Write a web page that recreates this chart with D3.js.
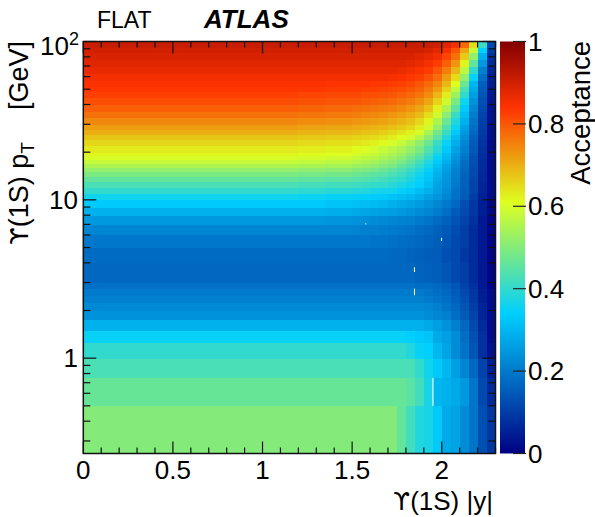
<!DOCTYPE html>
<html>
<head>
<meta charset="utf-8">
<script src="https://cdn.jsdelivr.net/npm/d3@7"></script>
<style>
  body { margin: 0; background: #fff; }
  text { font-family: "Liberation Sans", Arial, Helvetica, sans-serif; fill: #000; }
</style>
</head>
<body>
<div id="chart"></div>
<script>
// |y| bin edges and pT bin edges (GeV)
var yEdges = [0, 0.5, 1.0, 1.2, 1.35, 1.5, 1.55, 1.6, 1.65, 1.7, 1.75, 1.8, 1.85, 1.9, 1.95, 2.0, 2.05, 2.1, 2.15, 2.2, 2.25, 2.3];
var ptEdges = [0.25, 0.5, 0.75, 1, 1.25, 1.5, 1.75, 2, 2.25, 2.5, 2.75, 3, 3.5, 4, 5, 6, 7, 8, 9, 10,
  11, 12, 13, 14, 15, 16, 17, 18, 19, 20, 22, 24, 26, 28, 30, 33, 36, 40, 44, 48, 52, 57, 63, 70, 77, 85, 92, 100];

// acceptance, one row per pT bin (low pT first), one value per |y| bin
var acceptance = [
  [.50, .50, .50, .50, .50, .50, .50, .50, .50, .50, .46, .42, .38, .37, .33, .28, .27, .23, .19, .13, .09],
  [.465, .465, .465, .465, .465, .465, .465, .465, .465, .465, .465, .45, .42, .37, .30, .29, .28, .25, .19, .12, .07],
  [.43, .43, .43, .43, .43, .43, .43, .43, .43, .43, .43, .43, .40, .36, .33, .30, .26, .22, .17, .11, .05],
  [.40, .40, .40, .40, .40, .40, .40, .40, .40, .40, .40, .38, .35, .34, .30, .27, .23, .19, .14, .08, .03],
  [.35, .35, .35, .35, .35, .35, .35, .35, .35, .35, .35, .34, .33, .32, .28, .26, .23, .18, .13, .08, .02],
  [.29, .29, .29, .29, .29, .29, .29, .29, .29, .29, .29, .29, .29, .28, .26, .24, .21, .17, .12, .07, .02],
  [.24, .24, .24, .24, .24, .24, .24, .24, .24, .24, .24, .24, .24, .23, .22, .21, .18, .15, .11, .06, .02],
  [.225, .225, .225, .225, .225, .225, .225, .225, .225, .225, .225, .225, .225, .22, .21, .19, .17, .14, .10, .06, .02],
  [.21, .21, .21, .21, .21, .21, .21, .21, .21, .21, .21, .21, .21, .20, .19, .18, .16, .13, .09, .05, .02],
  [.20, .20, .20, .20, .20, .20, .20, .20, .20, .20, .20, .20, .20, .19, .18, .17, .15, .12, .09, .05, .02],
  [.185, .185, .185, .185, .185, .185, .185, .185, .185, .185, .185, .185, .18, .18, .17, .16, .14, .11, .08, .04, .01],
  [.17, .17, .17, .17, .17, .17, .17, .17, .17, .17, .17, .17, .165, .16, .155, .14, .12, .10, .07, .04, .01],
  [.17, .17, .17, .17, .17, .17, .17, .17, .17, .17, .17, .17, .165, .16, .155, .14, .12, .10, .07, .04, .01],
  [.175, .175, .175, .175, .175, .175, .175, .175, .175, .17, .17, .165, .16, .155, .15, .13, .12, .09, .07, .04, .01],
  [.195, .195, .195, .195, .195, .195, .195, .19, .19, .185, .18, .175, .17, .165, .155, .14, .12, .10, .07, .04, .01],
  [.22, .22, .22, .22, .22, .215, .21, .21, .205, .20, .195, .19, .18, .17, .16, .145, .125, .10, .07, .04, .01],
  [.25, .25, .25, .25, .245, .24, .235, .23, .225, .22, .215, .21, .20, .19, .175, .16, .135, .11, .08, .04, .01],
  [.29, .29, .29, .29, .285, .28, .275, .27, .265, .26, .25, .24, .23, .22, .20, .18, .15, .12, .09, .05, .015],
  [.33, .33, .33, .33, .32, .315, .31, .305, .30, .29, .28, .27, .255, .24, .22, .20, .17, .13, .09, .05, .015],
  [.36, .36, .36, .355, .35, .345, .34, .335, .33, .32, .31, .30, .285, .265, .245, .22, .185, .15, .10, .055, .02],
  [.40, .40, .40, .395, .39, .385, .38, .37, .365, .36, .345, .33, .31, .29, .26, .23, .19, .155, .11, .06, .02],
  [.43, .43, .43, .425, .42, .415, .41, .405, .40, .39, .375, .355, .34, .31, .27, .24, .20, .16, .11, .06, .02],
  [.46, .46, .46, .455, .45, .445, .44, .43, .42, .41, .395, .375, .35, .32, .28, .245, .205, .16, .115, .065, .02],
  [.49, .49, .49, .485, .48, .47, .465, .455, .445, .43, .415, .39, .36, .33, .29, .25, .21, .165, .12, .065, .02],
  [.52, .52, .52, .515, .51, .50, .495, .485, .47, .455, .435, .41, .38, .345, .30, .26, .215, .17, .12, .07, .02],
  [.55, .55, .55, .545, .54, .53, .525, .515, .50, .485, .46, .435, .40, .36, .315, .27, .225, .175, .125, .07, .02],
  [.58, .58, .58, .575, .57, .56, .55, .54, .525, .51, .49, .46, .425, .38, .33, .285, .235, .18, .13, .07, .02],
  [.60, .60, .60, .595, .59, .58, .57, .56, .545, .53, .51, .48, .445, .40, .35, .30, .245, .19, .13, .075, .02],
  [.62, .62, .62, .615, .61, .60, .59, .58, .565, .55, .53, .50, .465, .42, .365, .31, .255, .20, .14, .075, .02],
  [.635, .635, .635, .63, .625, .615, .605, .595, .58, .565, .545, .52, .49, .44, .39, .33, .27, .21, .145, .08, .02],
  [.655, .655, .655, .65, .645, .64, .635, .625, .615, .60, .58, .55, .515, .47, .41, .35, .285, .22, .15, .085, .02],
  [.675, .675, .675, .67, .665, .66, .655, .65, .64, .63, .615, .595, .56, .51, .45, .38, .305, .235, .16, .09, .025],
  [.70, .70, .70, .695, .69, .685, .68, .675, .665, .655, .64, .625, .60, .545, .48, .41, .33, .25, .17, .095, .025],
  [.72, .72, .72, .715, .71, .705, .70, .695, .69, .68, .67, .655, .63, .59, .52, .44, .355, .27, .18, .10, .025],
  [.745, .745, .745, .74, .735, .73, .725, .72, .715, .705, .695, .68, .655, .62, .55, .47, .38, .29, .19, .105, .03],
  [.77, .77, .77, .765, .76, .755, .75, .745, .74, .73, .72, .705, .685, .65, .59, .51, .41, .31, .205, .11, .03],
  [.79, .79, .79, .785, .78, .775, .77, .765, .76, .755, .745, .73, .71, .68, .625, .55, .45, .33, .22, .12, .03],
  [.81, .81, .81, .805, .80, .80, .795, .79, .785, .78, .77, .76, .74, .71, .66, .59, .49, .36, .24, .13, .035],
  [.825, .825, .825, .82, .815, .815, .81, .81, .805, .80, .79, .78, .765, .74, .69, .63, .53, .40, .26, .14, .04],
  [.838, .838, .838, .835, .83, .83, .825, .825, .82, .815, .81, .80, .785, .76, .72, .66, .57, .43, .28, .15, .045],
  [.845, .845, .845, .845, .84, .84, .84, .835, .835, .83, .825, .815, .80, .78, .745, .69, .61, .47, .30, .16, .05],
  [.855, .855, .855, .855, .855, .855, .855, .855, .855, .85, .845, .835, .825, .805, .775, .72, .65, .52, .35, .18, .055],
  [.868, .868, .868, .868, .868, .868, .868, .868, .868, .868, .865, .855, .845, .83, .80, .755, .69, .57, .40, .21, .06],
  [.88, .88, .88, .88, .88, .88, .88, .88, .88, .88, .88, .875, .865, .85, .83, .79, .73, .62, .46, .25, .07],
  [.89, .89, .89, .89, .89, .89, .89, .89, .89, .89, .89, .89, .88, .87, .855, .82, .77, .67, .52, .29, .08],
  [.90, .90, .90, .90, .90, .90, .90, .90, .90, .90, .90, .90, .90, .89, .875, .85, .80, .71, .58, .34, .10],
  [.91, .91, .91, .91, .91, .91, .91, .91, .91, .91, .91, .91, .91, .91, .90, .88, .85, .78, .65, .41, .12]
];

// empty bins drawn white: [|y| lo, |y| hi, pT lo, pT hi]
var emptyBins = [
  [1.573, 1.579, 7.0, 7.1],
  [1.996, 2.002, 5.5, 5.75],
  [1.845, 1.851, 3.5, 3.75],
  [1.845, 1.851, 2.5, 2.75],
  [1.948, 1.954, 0.5, 0.75]
];

var xTicks = [0, 0.5, 1, 1.5, 2];
var xTickLabels = ["0", "0.5", "1", "1.5", "2"];
var ptTicks = [1, 10, 100];
var zTicks = [0, 0.2, 0.4, 0.6, 0.8, 1];
var zTickLabels = ["0", "0.2", "0.4", "0.6", "0.8", "1"];

var width = 595, height = 517;
var fs = 26;

var svg = d3.select("#chart").append("svg")
  .attr("width", width)
  .attr("height", height);

var x = d3.scaleLinear().domain([0, 2.3]).range([83.3, 495.5]);
var y = d3.scaleLog().domain([0.25, 100]).range([453.5, 41.5]);

// ROOT style rainbow palette
var color = d3.scaleLinear()
  .domain([0, 0.34, 0.61, 0.84, 1])
  .range(["#000082", "#00cfff", "#deff1f", "#ff3300", "#820000"])
  .clamp(true);

var cells = [];
acceptance.forEach(function(row, j) {
  row.forEach(function(v, i) {
    cells.push({ y0: yEdges[i], y1: yEdges[i + 1], p0: ptEdges[j], p1: ptEdges[j + 1], v: v });
  });
});

svg.append("g")
  .attr("shape-rendering", "crispEdges")
  .selectAll("rect")
  .data(cells)
  .enter()
  .append("rect")
  .attr("x", d => x(d.y0))
  .attr("y", d => y(d.p1))
  .attr("width", d => x(d.y1) - x(d.y0) + 0.5)
  .attr("height", d => y(d.p0) - y(d.p1) + 0.5)
  .attr("fill", d => color(d.v));

svg.append("g")
  .selectAll("rect")
  .data(emptyBins)
  .enter()
  .append("rect")
  .attr("x", d => x(d[0]))
  .attr("y", d => y(d[3]))
  .attr("width", d => x(d[1]) - x(d[0]))
  .attr("height", d => y(d[2]) - y(d[3]))
  .attr("fill", "#fff");

// ticks (ROOT style, inside the frame, mirrored)
var axes = svg.append("g").attr("stroke", "#111").attr("stroke-width", 1.2);
var xMinor = d3.range(0, 2.31, 0.1);
xMinor.forEach(function(t) {
  var major = xTicks.some(m => Math.abs(m - t) < 1e-6);
  var len = major ? 12 : 6;
  axes.append("line").attr("x1", x(t)).attr("x2", x(t)).attr("y1", 453.5).attr("y2", 453.5 - len);
  axes.append("line").attr("x1", x(t)).attr("x2", x(t)).attr("y1", 41.5).attr("y2", 41.5 + len);
});
var ptMinor = [];
[0.1, 1, 10].forEach(function(dec) {
  for (var k = 2; k <= 9; k++) {
    var v = k * dec;
    if (v >= 0.25 && v <= 100) ptMinor.push(v);
  }
});
ptMinor.concat(ptTicks).forEach(function(t) {
  var len = ptTicks.indexOf(t) >= 0 ? 13 : 7;
  axes.append("line").attr("x1", 83.3).attr("x2", 83.3 + len).attr("y1", y(t)).attr("y2", y(t));
  axes.append("line").attr("x1", 495.5).attr("x2", 495.5 - len).attr("y1", y(t)).attr("y2", y(t));
});

svg.append("rect")
  .attr("x", 83.3).attr("y", 41.5)
  .attr("width", 495.5 - 83.3).attr("height", 453.5 - 41.5)
  .attr("fill", "none").attr("stroke", "#111").attr("stroke-width", 1.5);

// x tick labels
svg.append("g").selectAll("text")
  .data(xTicks)
  .enter()
  .append("text")
  .attr("x", d => x(d))
  .attr("y", 479)
  .attr("text-anchor", "middle")
  .attr("font-size", fs)
  .text((d, i) => xTickLabels[i]);

// y tick labels
svg.append("text").attr("x", 78).attr("y", y(1) + 9).attr("text-anchor", "end").attr("font-size", fs).text("1");
svg.append("text").attr("x", 78).attr("y", y(10) + 9).attr("text-anchor", "end").attr("font-size", fs).text("10");
var t100 = svg.append("text").attr("x", 79).attr("y", y(100) + 13).attr("text-anchor", "end").attr("font-size", fs);
t100.append("tspan").text("10");
t100.append("tspan").attr("dy", -10).attr("font-size", 18).text("2");

// axis titles
var xt = svg.append("text")
  .attr("x", 493).attr("y", 510)
  .attr("text-anchor", "end")
  .attr("font-size", fs);
xt.append("tspan").attr("font-family", "DejaVu Sans").attr("font-size", 24).text("ϒ");
xt.append("tspan").text("(1S) |y|");

var yt = svg.append("text")
  .attr("transform", "translate(28,41) rotate(-90)")
  .attr("text-anchor", "end")
  .attr("font-size", 27);
yt.append("tspan").attr("font-family", "DejaVu Sans").attr("font-size", 25).text("ϒ");
yt.append("tspan").text("(1S) p");
yt.append("tspan").attr("dy", 6).attr("font-size", 19).text("T");
yt.append("tspan").attr("dy", -6).attr("dx", 32).text("[GeV]");

// colour bar
var defs = svg.append("defs");
var grad = defs.append("linearGradient")
  .attr("id", "zgrad")
  .attr("x1", "0%").attr("x2", "0%")
  .attr("y1", "100%").attr("y2", "0%");
color.domain().forEach(function(s) {
  grad.append("stop").attr("offset", (s * 100) + "%").attr("stop-color", color(s));
});

var z = d3.scaleLinear().domain([0, 1]).range([453.5, 41.5]);
svg.append("rect")
  .attr("x", 500).attr("y", 41.5)
  .attr("width", 25).attr("height", 412)
  .attr("fill", "url(#zgrad)");

svg.append("g").selectAll("line")
  .data(zTicks)
  .enter()
  .append("line")
  .attr("x1", 513).attr("x2", 526)
  .attr("y1", d => z(d)).attr("y2", d => z(d))
  .attr("stroke", "#222").attr("stroke-width", 1.2);

svg.append("g").selectAll("text")
  .data(zTicks)
  .enter()
  .append("text")
  .attr("x", 528)
  .attr("y", d => z(d) + 9)
  .attr("font-size", fs)
  .text((d, i) => zTickLabels[i]);

svg.append("text")
  .attr("transform", "translate(590,41) rotate(-90)")
  .attr("text-anchor", "end")
  .attr("font-size", 27.5)
  .text("Acceptance");

// labels above the frame
svg.append("text").attr("x", 97).attr("y", 28).attr("font-size", 23).text("FLAT");
svg.append("text").attr("x", 204).attr("y", 28).attr("font-size", 26)
  .attr("font-weight", "bold").attr("font-style", "italic").text("ATLAS");
</script>
</body>
</html>
